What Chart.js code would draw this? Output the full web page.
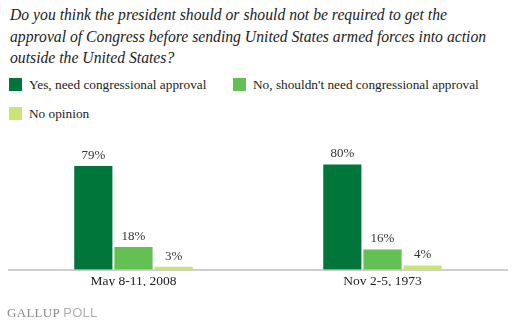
<!DOCTYPE html>
<html>
<head>
<meta charset="utf-8">
<script src="https://cdn.jsdelivr.net/npm/chart.js@4/dist/chart.umd.min.js"></script>
<style>
  html, body { margin: 0; padding: 0; background: #fff; }
  #wrap { position: relative; width: 514px; height: 324px; overflow: hidden; }
  #title {
    position: absolute; left: 10px; top: 4px; width: 504px; white-space: nowrap;
    font: italic 15.7px "Liberation Serif", serif; line-height: 21.5px; color: #222;
  }
  #legend { position: absolute; left: 9px; top: 77px; width: 505px; font: 13.3px "Liberation Serif", serif; color: #222; }
  .item { position: absolute; white-space: nowrap; }
  .sw { display: inline-block; width: 13px; height: 13px; vertical-align: -2px; margin-right: 7px; }
  #logo { position: absolute; left: 7px; top: 305px; font: 13px "Liberation Serif", serif; color: #888; letter-spacing: 0.3px; }
  #logo span { font: 13px "Liberation Sans", sans-serif; color: #b0b0b0; }
  canvas { position: absolute; left: 0; top: 0; }
</style>
</head>
<body>
<div id="wrap">
  <div id="title">Do you think the president should or should not be required to get the<br>approval of Congress before sending United States armed forces into action<br>outside the United States?</div>
  <div id="legend"></div>
  <canvas id="c" width="514" height="324"></canvas>
  <div id="logo">GALLUP <span>POLL</span></div>
</div>
<script>
// Survey dates and response shares (%)
const categories = ["May 8-11, 2008", "Nov 2-5, 1973"];
const seriesNames = ["Yes, need congressional approval", "No, shouldn't need congressional approval", "No opinion"];
const yesValues = [79, 80];
const noValues = [18, 16];
const noOpinionValues = [3, 4];
const seriesColors = ["#00763A", "#63C153", "#C8E672"];

const seriesValues = [yesValues, noValues, noOpinionValues];

// HTML legend: two items on the first row, one on the second
const legendPos = [[0, 0], [224, 0], [0, 29]];
const legend = document.getElementById("legend");
seriesNames.forEach((name, i) => {
  const d = document.createElement("div");
  d.className = "item";
  d.style.left = legendPos[i][0] + "px";
  d.style.top = legendPos[i][1] + "px";
  d.innerHTML = '<span class="sw" style="background:' + seriesColors[i] + '"></span>' + name;
  legend.appendChild(d);
});

// Percent labels above each bar
const valueLabels = {
  id: "valueLabels",
  afterDatasetsDraw(chart) {
    const ctx = chart.ctx;
    ctx.save();
    ctx.font = '13px "Liberation Serif", serif';
    ctx.fillStyle = "#333";
    ctx.textAlign = "center";
    ctx.textBaseline = "bottom";
    chart.data.datasets.forEach((ds, di) => {
      chart.getDatasetMeta(di).data.forEach((bar, i) => {
        ctx.fillText(ds.data[i] + "%", bar.x, bar.y - 3);
      });
    });
    ctx.restore();
  }
};

new Chart(document.getElementById("c"), {
  type: "bar",
  data: {
    labels: categories,
    datasets: seriesNames.map((name, i) => ({
      label: name,
      data: seriesValues[i],
      backgroundColor: seriesColors[i],
      borderColor: "rgba(255,255,255,0.55)",
      borderWidth: 1,
      barPercentage: 1,
      categoryPercentage: 0.484
    }))
  },
  options: {
    responsive: false,
    animation: false,
    layout: { padding: { left: 9, right: 7, top: 137, bottom: 38 } },
    plugins: { legend: { display: false }, tooltip: { enabled: false } },
    scales: {
      x: {
        grid: { display: false },
        border: { display: true, color: "#cfcfcb", width: 2 },
        ticks: { color: "#222", font: { family: "Liberation Serif", size: 13.5 }, padding: -4 }
      },
      y: {
        display: false,
        min: 0,
        max: 100
      }
    }
  },
  plugins: [valueLabels]
});
</script>
</body>
</html>
